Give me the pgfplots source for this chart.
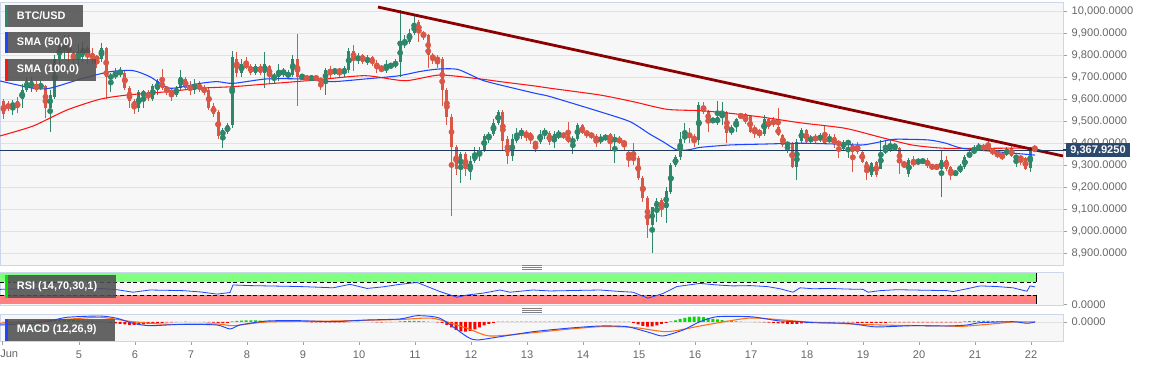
\documentclass[border=0pt]{standalone}
\usepackage{pgfplots}
\pgfplotsset{compat=1.18}
\usepackage{pgfplotstable}
\usepackage{fontspec}
\setmainfont{Liberation Sans}
\definecolor{cgreen}{RGB}{46,135,106}
\definecolor{cred}{RGB}{217,87,70}
\definecolor{smablue}{RGB}{30,70,255}
\definecolor{smared}{RGB}{255,20,20}
\definecolor{trendc}{RGB}{139,0,0}
\definecolor{pricec}{RGB}{31,58,96}
\definecolor{priceb}{RGB}{44,72,108}
\definecolor{bgc}{RGB}{247,247,247}
\definecolor{bordc}{RGB}{204,214,235}
\definecolor{gridc}{RGB}{226,226,226}
\definecolor{labc}{RGB}{102,102,102}
\definecolor{tickc}{RGB}{160,160,160}
\definecolor{rsig}{RGB}{128,255,128}
\definecolor{rsir}{RGB}{255,128,128}
\definecolor{legbg}{RGB}{80,80,80}
\definecolor{hgreen}{RGB}{0,220,0}
\definecolor{hred}{RGB}{255,0,0}
\definecolor{macdo}{RGB}{255,110,20}
\definecolor{rsibar}{RGB}{0,230,0}
\newcommand{\tickf}{\fontsize{8.3}{10}\selectfont}
\newcommand{\legf}{\bfseries\fontsize{8.2}{10}\selectfont}

\pgfplotstableread{
n o h l c hg
0 9590 9600 9510 9530 -5
1 9575 9590 9545 9560 -5
2 9565 9595 9525 9580 -5
3 9590 9610 9535 9560 -5
4 9600 9670 9560 9640 5
5 9640 9700 9630 9680 8
6 9650 9700 9630 9680 10
7 9670 9680 9630 9640 12
8 9650 9680 9640 9665 15
9 9660 9665 9515 9560 18
10 9560 9640 9450 9620 20
11 9610 9800 9600 9780 20
12 9780 9870 9760 9840 20
13 9830 9890 9780 9835 20
14 9840 9890 9770 9810 20
15 9810 9820 9760 9780 18
16 9780 9850 9750 9800 15
17 9790 9860 9770 9830 12
18 9830 9840 9760 9800 10
19 9810 9830 9760 9780 8
20 9790 9800 9740 9780 5
21 9780 9855 9770 9830 3
22 9830 9835 9600 9700 -5
23 9690 9720 9630 9710 -10
24 9700 9740 9690 9720 -15
25 9710 9745 9700 9730 -20
26 9720 9730 9640 9650 -25
27 9650 9660 9560 9590 -30
28 9590 9600 9530 9560 -30
29 9560 9640 9540 9630 -28
30 9610 9640 9560 9635 -25
31 9630 9640 9590 9605 -20
32 9600 9670 9590 9660 -15
33 9640 9690 9620 9680 -10
34 9680 9735 9640 9650 -8
35 9650 9660 9620 9640 -5
36 9640 9650 9590 9620 -3
37 9620 9660 9610 9650 -2
38 9650 9730 9640 9700 2
39 9690 9700 9640 9650 3
40 9660 9680 9620 9640 2
41 9640 9690 9625 9670 2
42 9670 9680 9630 9640 1
43 9650 9665 9620 9630 -2
44 9640 9650 9550 9560 -4
45 9570 9580 9520 9530 -6
46 9540 9550 9420 9430 -10
47 9430 9470 9378 9460 -12
48 9450 9490 9440 9480 -8
49 9480 9820 9470 9790 5
50 9780 9815 9700 9720 10
51 9720 9780 9700 9760 14
52 9760 9790 9735 9745 15
53 9750 9760 9710 9720 15
54 9720 9760 9710 9750 15
55 9750 9760 9710 9720 13
56 9720 9815 9650 9760 12
57 9750 9755 9670 9700 10
58 9690 9720 9670 9710 8
59 9700 9760 9680 9730 7
60 9715 9740 9700 9730 6
61 9700 9730 9690 9720 5
62 9710 9800 9700 9780 4
63 9780 9895 9570 9700 3
64 9700 9715 9685 9705 2
65 9700 9710 9680 9690 -2
66 9690 9710 9680 9700 -3
67 9700 9710 9680 9690 -4
68 9690 9690 9640 9680 -5
69 9680 9740 9620 9730 -5
70 9730 9750 9690 9720 -4
71 9720 9740 9710 9735 -4
72 9735 9740 9700 9720 -3
73 9715 9750 9700 9740 -3
74 9730 9830 9720 9820 -2
75 9820 9845 9725 9780 2
76 9780 9810 9760 9790 3
77 9800 9805 9760 9770 2
78 9770 9800 9755 9785 1
79 9790 9795 9750 9760 -2
80 9765 9775 9720 9740 -3
81 9740 9755 9725 9730 -3
82 9730 9775 9720 9750 -2
83 9745 9765 9740 9755 -1
84 9750 9780 9740 9770 1
85 9770 10005 9700 9850 5
86 9850 9890 9830 9860 8
87 9860 9920 9850 9900 10
88 9900 9978 9890 9940 10
89 9950 9960 9860 9900 8
90 9895 9910 9870 9890 6
91 9890 9895 9740 9800 3
92 9800 9810 9760 9780 1
93 9790 9800 9740 9770 -3
94 9780 9790 9570 9640 -10
95 9640 9650 9480 9520 -30
96 9520 9530 9070 9380 -55
97 9380 9390 9255 9280 -80
98 9280 9360 9220 9350 -95
99 9350 9360 9250 9280 -97
100 9270 9340 9230 9320 -90
101 9320 9380 9310 9350 -75
102 9340 9380 9320 9370 -55
103 9370 9440 9360 9430 -35
104 9420 9450 9400 9440 -20
105 9440 9510 9430 9490 -8
106 9490 9550 9480 9540 3
107 9540 9550 9370 9410 3
108 9420 9430 9305 9340 3
109 9340 9440 9320 9420 3
110 9410 9470 9400 9440 3
111 9435 9470 9420 9460 3
112 9450 9460 9410 9430 3
113 9445 9450 9395 9413 3
114 9400 9405 9360 9395 3
115 9405 9460 9395 9440 3
116 9440 9470 9420 9455 3
117 9445 9455 9390 9405 3
118 9405 9455 9375 9440 3
119 9430 9460 9420 9440 3
120 9440 9450 9420 9430 3
121 9435 9495 9400 9405 3
122 9400 9430 9350 9420 3
123 9420 9490 9410 9480 3
124 9480 9485 9440 9445 3
125 9450 9460 9425 9440 3
126 9440 9450 9420 9430 3
127 9430 9440 9380 9410 3
128 9410 9440 9395 9420 3
129 9420 9440 9410 9430 3
130 9440 9445 9370 9410 3
131 9410 9440 9307 9420 3
132 9420 9430 9395 9405 3
133 9410 9415 9370 9390 3
134 9360 9370 9292 9335 3
135 9338 9400 9300 9322 -10
136 9330 9340 9230 9240 -25
137 9239 9250 9130 9148 -40
138 9148 9160 8970 9027 -47
139 9027 9110 8900 9110 -45
140 9103 9150 9040 9138 -35
141 9140 9150 9065 9103 -20
142 9103 9200 9035 9183 -8
143 9178 9310 9170 9300 5
144 9300 9345 9290 9335 15
145 9335 9450 9325 9418 30
146 9416 9492 9400 9440 42
147 9440 9470 9400 9430 50
148 9431 9440 9383 9409 53
149 9413 9588 9390 9572 53
150 9568 9588 9530 9542 48
151 9545 9550 9451 9497 40
152 9500 9515 9490 9506 32
153 9490 9591 9480 9516 25
154 9516 9588 9482 9534 18
155 9539 9545 9398 9444 12
156 9444 9480 9435 9474 8
157 9474 9515 9451 9507 5
158 9527 9535 9510 9520 3
159 9530 9535 9485 9497 2
160 9522 9525 9445 9451 1
161 9462 9482 9421 9458 -1
162 9459 9462 9425 9436 -2
163 9441 9527 9430 9507 -3
164 9507 9512 9465 9474 -6
165 9497 9520 9471 9492 -10
166 9471 9557 9430 9436 -13
167 9436 9440 9380 9391 -15
168 9391 9405 9353 9398 -18
169 9398 9405 9285 9292 -20
170 9292 9420 9231 9405 -18
171 9409 9466 9400 9459 -15
172 9459 9463 9398 9406 -12
173 9414 9436 9398 9421 -8
174 9428 9440 9400 9414 -5
175 9416 9444 9406 9431 -4
176 9428 9477 9398 9401 -3
177 9406 9440 9398 9425 -3
178 9428 9440 9375 9398 -2
179 9410 9415 9330 9386 -2
180 9375 9415 9370 9406 -3
181 9398 9410 9330 9406 -3
182 9391 9400 9270 9360 -5
183 9391 9406 9350 9360 -8
184 9360 9365 9310 9315 -8
185 9315 9320 9231 9270 -8
186 9254 9315 9245 9307 -8
187 9315 9320 9245 9254 -8
188 9284 9413 9280 9356 -8
189 9360 9410 9350 9375 -8
190 9376 9413 9360 9383 -3
191 9375 9400 9370 9383 -3
192 9375 9380 9259 9307 -3
193 9310 9315 9285 9300 -3
194 9257 9330 9246 9322 -3
195 9322 9340 9290 9300 -3
196 9308 9330 9298 9325 -3
197 9310 9330 9305 9325 -3
198 9322 9330 9285 9295 -3
199 9300 9305 9278 9285 -3
200 9295 9300 9280 9290 -3
201 9280 9370 9156 9322 -3
202 9322 9340 9275 9280 -3
203 9289 9295 9231 9254 -3
204 9257 9275 9250 9270 -3
205 9270 9305 9265 9295 -3
206 9289 9345 9280 9335 5
207 9335 9365 9330 9356 8
208 9356 9390 9350 9371 10
209 9371 9398 9365 9383 10
210 9383 9395 9365 9375 10
211 9383 9416 9365 9375 10
212 9370 9378 9345 9355 9
213 9360 9365 9330 9345 8
214 9350 9355 9322 9335 6
215 9345 9380 9340 9375 5
216 9375 9385 9335 9340 3
217 9330 9345 9290 9340 2
218 9340 9345 9300 9322 1
219 9330 9335 9275 9280 -1
220 9285 9380 9266 9375 -1
221 9375 9392 9360 9368 1
}\candles

\pgfplotstableread{
x y
3.589 9682
4.178 9649
4.482 9649
5.071 9694
5.553 9724
5.964 9729
6.268 9701
6.625 9649
7.161 9671
7.464 9679
7.750 9671
8.339 9691
8.946 9691
9.518 9679
10.107 9691
10.696 9705
11.089 9725
11.411 9736
11.768 9734
12.196 9686
12.518 9664
13.143 9626
13.411 9611
14.304 9542
14.839 9497
15.196 9440
15.428 9406
15.678 9368
15.911 9370
16.089 9380
16.625 9391
17.214 9395
17.875 9399
18.411 9396
18.982 9391
19.303 9405
19.571 9417
20.161 9414
20.464 9400
20.768 9376
21.357 9361
22.071 9345
}\smafifty

\pgfplotstableread{
x y
3.589 9432
4.178 9477
4.785 9550
5.375 9599
5.857 9618
6.571 9633
7.161 9649
7.750 9656
8.339 9668
9.214 9686
10.107 9706
10.821 9683
11.446 9709
12.196 9690
12.518 9679
13.143 9659
13.411 9649
14.304 9618
14.893 9588
15.500 9553
16.089 9547
16.625 9535
17.214 9517
17.875 9492
18.678 9467
19.268 9429
19.875 9391
20.464 9376
21.357 9376
22.071 9378
}\smahundred

\pgfplotstableread{
x y
3.589 48
3.893 50
4.178 51
4.482 49
4.785 52
5.071 50
5.375 51
5.678 47
5.964 39
6.268 46
6.571 45
6.857 44
7.161 40
7.464 33
7.696 38
7.750 62
8.054 60
8.357 59
8.643 58
8.946 57
9.250 55
9.536 53
9.839 64
10.143 51
10.428 56
10.732 64
11.036 70
11.446 41
11.750 23
11.928 30
12.214 36
12.518 46
12.696 39
13.107 46
13.411 43
13.714 44
14.000 45
14.304 46
14.607 42
14.893 39
15.161 20
15.428 35
15.678 57
16.089 67
16.393 62
16.678 59
16.982 60
17.286 57
17.518 50
17.750 39
17.875 53
18.107 50
18.411 51
18.714 49
19.000 48
19.089 39
19.303 44
19.607 47
19.893 46
20.196 45
20.500 44
20.607 41
20.857 50
21.089 59
21.393 57
21.678 53
21.928 42
21.982 59
22.071 56
}\rsi

\pgfplotstableread{
x y
3.589 -30
4.178 -13
4.482 10
4.785 47
5.375 60
5.678 37
5.964 -13
6.268 -37
6.857 -23
7.464 -30
7.696 -70
7.875 -30
8.357 10
8.946 13
9.536 3
10.143 20
10.732 30
11.036 63
11.446 37
11.928 -147
12.107 -180
12.518 -147
13.107 -97
13.714 -63
14.304 -40
14.786 -47
15.196 -107
15.428 -140
15.786 -80
16.089 3
16.393 53
16.982 53
17.286 30
17.518 10
17.875 3
18.107 -7
18.714 -13
19.178 -47
19.428 -47
19.893 -37
20.500 -40
20.857 -30
21.089 -7
21.678 3
21.928 -13
22.071 0
}\macd

\pgfplotstableread{
x y
3.589 -13
4.785 27
5.375 47
5.964 3
6.571 -23
7.464 -20
7.750 -37
8.357 0
9.536 10
10.732 25
11.321 37
11.928 -63
12.339 -140
13.107 -107
13.714 -73
14.304 -47
14.893 -53
15.500 -97
16.089 -40
16.393 -10
16.982 40
17.571 20
18.107 -3
19.303 -30
20.500 -40
20.786 -43
21.393 -15
21.678 0
22.071 0
}\signal

\pgfplotsset{
  upc/.style={restrict expr to domain={\thisrow{c}-\thisrow{o}}{0:100000}},
  dnc/.style={restrict expr to domain={\thisrow{c}-\thisrow{o}}{-100000:-0.01}},
  hpos/.style={restrict expr to domain={\thisrow{hg}}{0:100000}},
  hneg/.style={restrict expr to domain={\thisrow{hg}}{-100000:-0.01}},
  panel/.style={
    scale only axis, width=797.25pt, xmin=3.589, xmax=22.571,
    axis background/.style={fill=bgc},
    axis line style={draw=bordc, line width=0.6pt},
    ytick pos=right, yticklabel pos=right,
    tick align=outside, major tick length=3pt,
    tick style={draw=tickc, line width=0.5pt},
    yticklabel style={font=\tickf, text=labc},
    xticklabel style={font=\tickf, text=labc, yshift=-1pt},
    xtick=\empty,
  },
}

\begin{document}
\begin{tikzpicture}
\useasboundingbox (0pt,0pt) rectangle (864.75pt,275.25pt);

% main price panel
\begin{axis}[panel, at={(0pt,76.5pt)}, anchor=south west, height=197.25pt,
  ymin=8845.45, ymax=10040.9,
  ytick={8900,9000,...,10000},
  yticklabels={{8,900.0000},{9,000.0000},{9,100.0000},{9,200.0000},{9,300.0000},{9,400.0000},{9,500.0000},{9,600.0000},{9,700.0000},{9,800.0000},{9,900.0000},{10,000.0000}},
  ymajorgrids, grid style={draw=gridc, line width=0.5pt}]
\addplot[upc, only marks, mark=none, color=cgreen,
  error bars/.cd, y dir=both, y explicit, error mark=none,
  error bar style={line width=0.75pt, cgreen}]
  table[x expr=3.6515+\thisrow{n}/12, y expr=(\thisrow{h}+\thisrow{l})/2, y error expr=(\thisrow{h}-\thisrow{l})/2]{\candles};
\addplot[dnc, only marks, mark=none, color=cred,
  error bars/.cd, y dir=both, y explicit, error mark=none,
  error bar style={line width=0.75pt, cred}]
  table[x expr=3.6515+\thisrow{n}/12, y expr=(\thisrow{h}+\thisrow{l})/2, y error expr=(\thisrow{h}-\thisrow{l})/2]{\candles};
\addplot[upc, only marks, mark=none, color=cgreen,
  error bars/.cd, y dir=both, y explicit, error mark=none,
  error bar style={line width=2.4pt, cgreen}]
  table[x expr=3.6515+\thisrow{n}/12, y expr=(\thisrow{o}+\thisrow{c})/2, y error expr={max(abs(\thisrow{c}-\thisrow{o})/2,2.5)}]{\candles};
\addplot[dnc, only marks, mark=none, color=cred,
  error bars/.cd, y dir=both, y explicit, error mark=none,
  error bar style={line width=2.4pt, cred}]
  table[x expr=3.6515+\thisrow{n}/12, y expr=(\thisrow{o}+\thisrow{c})/2, y error expr={max(abs(\thisrow{c}-\thisrow{o})/2,2.5)}]{\candles};
\addplot[smared, line width=0.8pt, smooth, tension=0.4] table{\smahundred};
\addplot[smablue, line width=0.8pt, smooth, tension=0.4] table{\smafifty};
\addplot[trendc, line width=2.1pt] coordinates {(10.339,10018) (22.571,9341)};
\addplot[pricec, line width=0.8pt] coordinates {(3.589,9367.925) (22.571,9367.925)};
\end{axis}

% RSI panel
\begin{axis}[panel, at={(0pt,46.5pt)}, anchor=south west, height=24.75pt,
  ymin=-1.6, ymax=103.2, ytick={0}, yticklabels={0.0000}]
\addplot[fill=rsig, draw=none] coordinates {(3.589,70) (22.089,70) (22.089,100) (3.589,100)};
\addplot[fill=rsir, draw=none] coordinates {(3.589,0) (22.089,0) (22.089,30) (3.589,30)};
\addplot[black, line width=0.5pt, densely dashed] coordinates {(3.589,70) (22.089,70)};
\addplot[black, line width=0.5pt, densely dashed] coordinates {(3.589,30) (22.089,30)};
\addplot[black, line width=0.6pt] coordinates {(22.089,70) (22.089,100)};
\addplot[black, line width=0.6pt] coordinates {(22.089,0) (22.089,30)};
\addplot[smablue, line width=0.6pt] table{\rsi};
\end{axis}

% MACD panel
\begin{axis}[panel, at={(0pt,19.5pt)}, anchor=south west, height=20.25pt,
  ymin=-190, ymax=80, ytick={0}, yticklabels={0.0000},
  xtick={5,6,...,22}, xtick pos=left,
  xticklabels={5,6,7,8,9,10,11,12,13,14,15,16,17,18,19,20,21,22},
  extra x ticks={3.625}, extra x tick labels={}]
\addplot[gridc, line width=0.5pt] coordinates {(3.589,0) (22.571,0)};
\addplot[hpos, ybar, bar width=2.2pt, bar shift=0pt, fill=hgreen, draw=none]
  table[x expr=3.6515+\thisrow{n}/12, y=hg]{\candles};
\addplot[hneg, ybar, bar width=2.2pt, bar shift=0pt, fill=hred, draw=none]
  table[x expr=3.6515+\thisrow{n}/12, y=hg]{\candles};
\addplot[macdo, line width=0.8pt, smooth, tension=0.4] table{\signal};
\addplot[smablue, line width=0.7pt, smooth, tension=0.4] table{\macd};
\end{axis}

% overlays in pixel coordinates (y downward)
\begin{scope}[x=0.75pt, y=-0.75pt, yshift=275.25pt]
  \fill[legbg, fill opacity=0.88] (5,5) rectangle (83,27);
  \fill[cgreen] (5,5) rectangle (7.5,27);
  \node[anchor=west, inner sep=0pt, text=white, font=\legf] at (16.7,16) {BTC/USD};
  \fill[legbg, fill opacity=0.88] (5,32) rectangle (90,53.5);
  \fill[smablue] (5,32) rectangle (7.5,53.5);
  \node[anchor=west, inner sep=0pt, text=white, font=\legf] at (16.7,42.8) {SMA (50,0)};
  \fill[legbg, fill opacity=0.88] (5,59) rectangle (96,81);
  \fill[smared] (5,59) rectangle (7.5,81);
  \node[anchor=west, inner sep=0pt, text=white, font=\legf] at (16.7,70) {SMA (100,0)};
  \fill[legbg, fill opacity=0.88] (5,275) rectangle (116,298);
  \fill[rsibar] (5,275) rectangle (7.5,298);
  \node[anchor=west, inner sep=0pt, text=white, font=\legf] at (16.7,286.5) {RSI (14,70,30,1)};
  \fill[legbg, fill opacity=0.88] (5,319) rectangle (115,341);
  \fill[smablue] (5,319) rectangle (7.5,341);
  \node[anchor=west, inner sep=0pt, text=white, font=\legf] at (16.7,330) {MACD (12,26,9)};
  % current price label
  \draw[pricec, line width=0.8pt] (1063,150) -- (1066,150);
  \fill[priceb] (1066,143) rectangle (1130,157);
  \node[text=white, inner sep=0pt, font=\bfseries\tickf] at (1098,150) {9,367.9250};
  % drag handles
  \draw[gray, line width=0.45pt] (522,265.8)--(542,265.8) (522,267.5)--(542,267.5) (522,269.2)--(542,269.2);
  \draw[gray, line width=0.45pt] (522,308.5)--(542,308.5) (522,310.2)--(542,310.2) (522,311.9)--(542,311.9);
  \node[anchor=north west, inner sep=0pt, text=labc, font=\tickf] at (0,350) {Jun};
\end{scope}
\end{tikzpicture}
\end{document}
